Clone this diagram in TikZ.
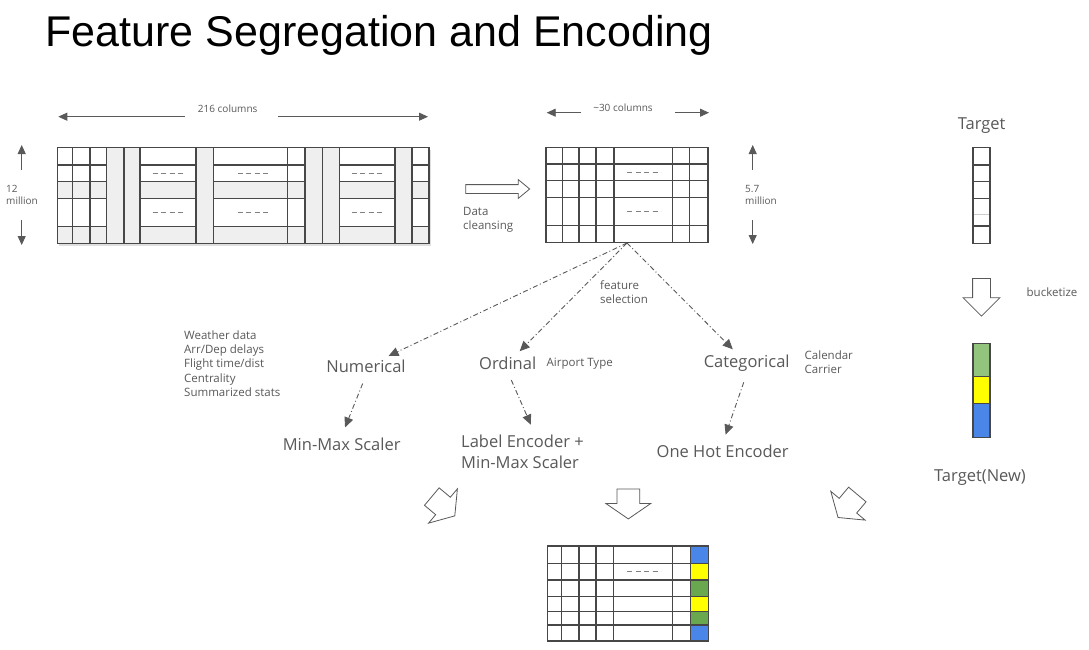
\documentclass[tikz,border=0pt]{standalone}
\usepackage{fontspec}
\setmainfont{Open Sans}
\newfontfamily\titlefont{Liberation Sans}
\usetikzlibrary{arrows.meta,shapes.arrows,shadows}
\definecolor{txtgray}{HTML}{595959}
\definecolor{linegray}{HTML}{474747}
\definecolor{cellgray}{HTML}{EFEFEF}
\definecolor{bucketgreen}{HTML}{93C47D}
\definecolor{rowgreen}{HTML}{6AA84F}
\definecolor{bucketyellow}{HTML}{FFFF00}
\definecolor{bucketblue}{HTML}{4A86E8}

\begin{document}
\begin{tikzpicture}[x=1pt, y=-1pt,
	grid/.style={draw=linegray, line width=1.1pt},
	dashrow/.style={draw=gray, line width=1pt, dash pattern=on 5pt off 3.5pt},
	dimarrow/.style={-{Triangle[length=9pt,width=8pt]}, draw=txtgray, line width=0.9pt},
	selarrow/.style={-{Triangle[length=10pt,width=9pt]}, draw=txtgray, line width=0.9pt, dash pattern=on 5pt off 2.5pt on 1pt off 2.5pt},
	kind/.style={text=txtgray, font=\fontsize{16.5}{21}\selectfont, inner sep=2pt},
	note/.style={text=txtgray, font=\fontsize{11.5}{14.2}\selectfont, align=left, inner sep=0pt},
	dimnote/.style={text=txtgray, font=\fontsize{10}{12.5}\selectfont, align=left, inner sep=0pt},
	blockarrow/.style={single arrow, draw=txtgray, line width=0.8pt, fill=white, inner xsep=0pt, minimum width=0pt}]
	\useasboundingbox[fill=white] (0,0) rectangle (1089,650);

	\node[anchor=base west, font=\titlefont\fontsize{43}{50}\selectfont] (title) at (42,47) {Feature Segregation and Encoding};

	\path[fill=white, drop shadow={opacity=0.25, shadow xshift=1.5pt, shadow yshift=-2.5pt}] (57.3,147.7) rectangle (429,243.3);
	\fill[cellgray] (57.3,181.7) rectangle (429,198.3);
	\fill[cellgray] (57.3,226.7) rectangle (429,243.3);
	\foreach \a/\b in {106.7/124,124/140,196/213.3,305/322.3,322.3/339.3,395/412}
		\fill[cellgray] (\a,147.7) rectangle (\b,243.3);
	\foreach \a/\b in {57.3/106.7,140/196,213.3/305,339.3/395,412/429}
		\foreach \y in {165,181.7,198.3,226.7}
			\draw[grid] (\a,\y) -- (\b,\y);
	\foreach \x in {72.7,90,106.7,124,140,196,213.3,287.3,305,322.3,339.3,395,412}
		\draw[grid] (\x,147.7) -- (\x,243.3);
	\draw[grid, line width=1.4pt] (57.3,147.7) rectangle (429,243.3);
	\foreach \x in {168,253,367}
		\foreach \y in {173.3,212.5}
			\draw[dashrow] (\x-15.3,\y) -- (\x+15.3,\y);

	\foreach \y in {164,180.7,197.7,225.7}
		\draw[grid] (546,\y) -- (708,\y);
	\foreach \x in {562.3,579,596,614,672.7,689.3}
		\draw[grid] (\x,147.7) -- (\x,242.7);
	\draw[grid, line width=1.3pt] (546,147.7) rectangle (708,242.7);
	\foreach \y in {172.3,211.7}
		\draw[dashrow] (627,\y) -- (661,\y);

	\foreach \a/\b/\c in {546/563.3/bucketblue,563.3/580/bucketyellow,580/596.7/rowgreen,596.7/611.7/bucketyellow,611.7/625/rowgreen,625/641/bucketblue}
		\fill[\c] (690.7,\a) rectangle (708.3,\b);
	\foreach \y in {563.3,580,596.7,611.7,625}
		\draw[grid] (547.3,\y) -- (708.3,\y);
	\foreach \x in {561.7,579,596,613.3,672.7,690.7}
		\draw[grid] (\x,546) -- (\x,641);
	\draw[grid, line width=1.3pt] (547.3,546) rectangle (708.3,641);
	\draw[dashrow] (627,571.7) -- (661,571.7);

	\foreach \y in {165,181.7,198.3,226}
		\draw[grid] (973,\y) -- (990,\y);
	\draw[grid, draw=black!20] (973,214.3) -- (990,214.3);
	\draw[grid] (973,147.7) rectangle (990,243.3);
	\fill[bucketgreen] (973,343.3) rectangle (990,376.7);
	\fill[bucketyellow] (973,376.7) rectangle (990,403.3);
	\fill[bucketblue] (973,403.3) rectangle (990,437.7);
	\draw[grid] (973,376.7) -- (990,376.7) (973,403.3) -- (990,403.3);
	\draw[grid, line width=1.4pt] (973,343.3) rectangle (990,437.7);

	\node[dimnote] (cols216) at (227.7,109) {216 columns};
	\coordinate (cols216l) at (185,116.7);
	\coordinate (cols216le) at (58.3,116.7);
	\coordinate (cols216r) at (278,116.7);
	\coordinate (cols216re) at (428,116.7);
	\draw[dimarrow] (cols216l) -- (cols216le);
	\draw[dimarrow] (cols216r) -- (cols216re);

	\node[dimnote, anchor=west] (rows12) at (6,195) {12\\million};
	\coordinate (rows12u) at (21.7,170);
	\coordinate (rows12ue) at (21.7,145);
	\coordinate (rows12d) at (21.7,220);
	\coordinate (rows12de) at (21.7,245);
	\draw[dimarrow] (rows12u) -- (rows12ue);
	\draw[dimarrow] (rows12d) -- (rows12de);

	\node[dimnote] (cols30) at (623,108) {\textasciitilde30 columns};
	\coordinate (cols30l) at (581,112.7);
	\coordinate (cols30le) at (546.7,112.7);
	\coordinate (cols30r) at (675,112.7);
	\coordinate (cols30re) at (709,112.7);
	\draw[dimarrow] (cols30l) -- (cols30le);
	\draw[dimarrow] (cols30r) -- (cols30re);

	\node[dimnote, anchor=west] (rows57) at (745,195) {5.7\\million};
	\coordinate (rows57u) at (752.7,170);
	\coordinate (rows57ue) at (752.7,145);
	\coordinate (rows57d) at (752.7,220);
	\coordinate (rows57de) at (752.7,244);
	\draw[dimarrow] (rows57u) -- (rows57ue);
	\draw[dimarrow] (rows57d) -- (rows57de);

	\node[blockarrow, inner ysep=4pt, single arrow head extend=5pt, single arrow tip angle=79, minimum height=64pt] (clean) at (495,189) {};
	\node[note, anchor=west] (cleantext) at (463,220) {Data\\cleansing};

	\node[kind] (target) at (981.7,126) {Target};
	\node[blockarrow, rotate=-90, inner ysep=8.5pt, single arrow head extend=9.5pt, single arrow tip angle=90, minimum height=37.7pt] (bucket) at (981.5,292.8) {};
	\node[note] (buckettext) at (1052,292) {bucketize};
	\node[kind] (targetnew) at (980,478) {Target(New)};

	\coordinate (sel) at (627,243);
	\node[note, anchor=west] (seltext) at (600,292) {feature\\selection};
	\node[kind] (num) at (366,366.7) {Numerical};
	\node[kind] (ord) at (507.7,363.3) {Ordinal};
	\node[kind] (cat) at (746.7,363.3) {Categorical};
	\node[note, anchor=west] (numtext) at (184,363.5) {Weather data\\Arr/Dep delays\\Flight time/dist\\Centrality\\Summarized stats};
	\node[note, anchor=west] (ordtext) at (546.5,363.3) {Airport Type};
	\node[note, anchor=west] (cattext) at (804.5,362.5) {Calendar\\Carrier};
	\draw[selarrow, shorten >=5pt] (sel) -- (num);
	\draw[selarrow, shorten >=5pt] (sel) -- (ord);
	\draw[selarrow, shorten >=5pt] (sel) -- (cat);

	\node[kind] (minmax) at (341.7,444.3) {Min-Max Scaler};
	\node[kind, align=left, anchor=west, font=\fontsize{16.5}{21}\selectfont] (labelenc) at (459,452) {Label Encoder +\\Min-Max Scaler};
	\node[kind] (onehot) at (722.7,451.7) {One Hot Encoder};
	\draw[selarrow, shorten <=9pt, shorten >=9pt] (num.south) -- (minmax.north);
	\draw[selarrow, shorten <=9pt, shorten >=9pt] (ord.south) -- ([xshift=12pt]labelenc.north);
	\draw[selarrow, shorten <=9pt, shorten >=9pt] (cat.south) -- (onehot.north);

	\node[blockarrow, rotate=-40, inner ysep=11pt, single arrow head extend=11pt, single arrow tip angle=111, minimum height=30pt] (numinto) at (440.3,503.7) {};
	\node[blockarrow, rotate=-90, inner ysep=11pt, single arrow head extend=11pt, single arrow tip angle=111, minimum height=30pt] (ordinto) at (628.3,500) {};
	\node[blockarrow, rotate=-130, inner ysep=11pt, single arrow head extend=11pt, single arrow tip angle=111, minimum height=30pt] (catinto) at (850.2,503) {};
\end{tikzpicture}
\end{document}
